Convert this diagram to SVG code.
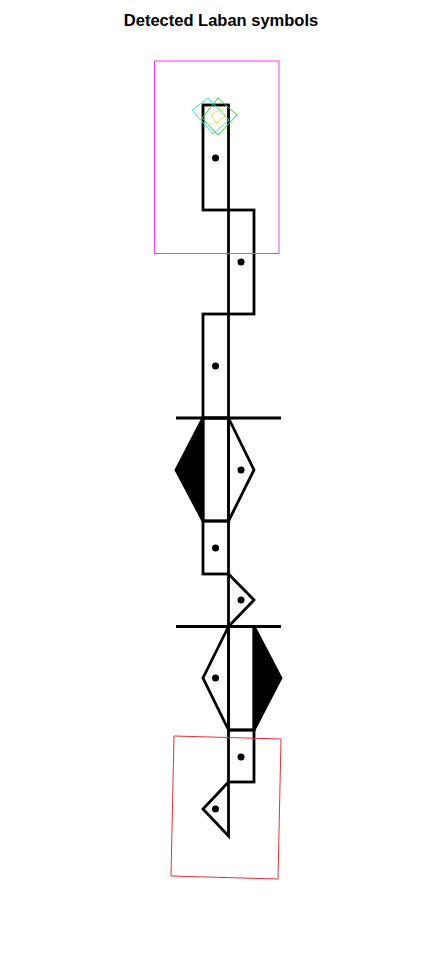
<svg xmlns="http://www.w3.org/2000/svg" width="443" height="965" viewBox="0 0 443 965">
<style>
.s{fill:none;stroke:#000;stroke-width:2.8;stroke-linejoin:miter}
.f{fill:#000;stroke:#000;stroke-width:2.8}
.d{fill:#000}
.t{font-family:"Liberation Sans",Arial,sans-serif;font-weight:bold;font-size:16.5px;fill:#000}
</style>
<rect width="443" height="965" fill="#fff"/>
<text class="t" x="221" y="26" text-anchor="middle">Detected Laban symbols</text>
<g id="staff">
<line class="s" x1="176" y1="418" x2="281" y2="418"/>
<line class="s" x1="176" y1="626.5" x2="281" y2="626.5"/>
</g>
<g id="sym1"><rect class="s" x="203" y="105" width="25.5" height="105"/><circle class="d" cx="215.5" cy="158" r="3.5"/></g>
<g id="sym2"><rect class="s" x="228.5" y="210" width="25.5" height="104"/><circle class="d" cx="241" cy="262" r="3.5"/></g>
<g id="sym3"><rect class="s" x="203" y="314" width="25.5" height="104"/><circle class="d" cx="215.5" cy="366" r="3.5"/></g>
<g id="sym4"><polygon class="f" points="203,418 176,470 203,521"/><rect class="s" x="203" y="418" width="25.5" height="103"/></g>
<g id="sym5"><polygon class="s" points="228.5,418 254,470 228.5,521"/><circle class="d" cx="241" cy="470" r="3.5"/></g>
<g id="sym6"><rect class="s" x="203" y="521" width="25.5" height="53"/><circle class="d" cx="215.5" cy="548" r="3.5"/></g>
<g id="sym7"><polygon class="s" points="228.5,574 254,600 228.5,626.5"/><circle class="d" cx="241" cy="600" r="3.5"/></g>
<g id="sym8"><polygon class="s" points="228.5,626.5 203,678 228.5,730"/><circle class="d" cx="215.5" cy="678" r="3.5"/></g>
<g id="sym9"><polygon class="f" points="254,626.5 281,678 254,730"/><rect class="s" x="228.5" y="626.5" width="25.5" height="103.5"/></g>
<g id="sym10"><rect class="s" x="228.5" y="730" width="25.5" height="52"/><circle class="d" cx="241" cy="757" r="3.5"/></g>
<g id="sym11"><polygon class="s" points="228.5,782 203,809 228.5,836"/><circle class="d" cx="215.5" cy="809" r="3.5"/></g>
<g id="detections" fill="none" stroke-width="1">
<rect x="154.5" y="61" width="124.5" height="192.5" stroke="#ff33ff"/>
<polygon points="192,110 208,98 229,120 213,134" stroke="#33e6e6"/>
<polygon points="218,98 237,115 218,135 202,118" stroke="#33cc33"/>
<polygon points="220,108 226,115 217,123 211,116" stroke="#e6e633"/>
<polygon points="174,736 281,739 278,879 171,876" stroke="#e63333"/>
</g>
</svg>
